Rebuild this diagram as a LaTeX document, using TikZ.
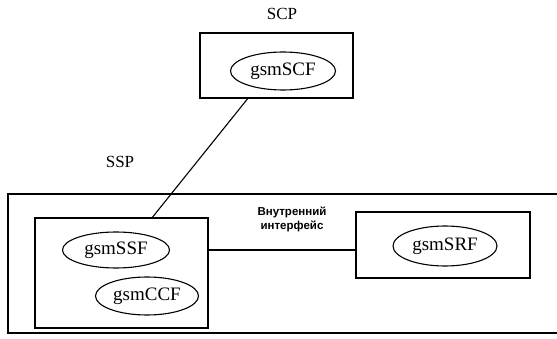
\documentclass[tikz,border=0pt]{standalone}
\usepackage{fontspec}
\setmainfont{Liberation Serif}
\newfontfamily\ifcfont{Liberation Sans}
\usetikzlibrary{shapes.geometric}

\begin{document}
\begin{tikzpicture}[x=1pt,y=-1pt]
  \tikzset{BoxStyle/.style = {
  shape = rectangle,
  draw,
  line width = 1.1pt,
  inner sep = 0pt},
  FuncStyle/.style = {
  shape = ellipse,
  draw,
  line width = 1.1pt,
  inner sep = 0pt,
  font = \fontsize{19}{21}\selectfont},
  LabelStyle/.style = {
  font = \fontsize{17}{19}\selectfont}}
  \useasboundingbox (0,0) rectangle (557,339);
  \node[LabelStyle] (scplabel) at (282,14) {SCP};
  \node[BoxStyle, minimum width=153pt, minimum height=65pt] (scpbox) at (276.5,65.5) {};
  \node[FuncStyle, minimum width=105pt, minimum height=38pt] (scf) at (283,71) {gsmSCF};
  \node[LabelStyle] (ssplabel) at (120,162) {SSP};
  \node[BoxStyle, minimum width=552pt, minimum height=139pt] (sspbox) at (284,263.5) {};
  \node[BoxStyle, minimum width=173pt, minimum height=110pt] (ssfbox) at (121.5,273) {};
  \node[FuncStyle, minimum width=107pt, minimum height=36pt] (ssf) at (116,250) {gsmSSF};
  \node[FuncStyle, minimum width=103pt, minimum height=38pt] (ccf) at (147,296) {gsmCCF};
  \node[BoxStyle, minimum width=174pt, minimum height=66pt] (srfbox) at (443,245) {};
  \node[FuncStyle, minimum width=104pt, minimum height=40pt] (srf) at (445,246) {gsmSRF};
  \node[align=center, font=\ifcfont\bfseries\fontsize{11.5}{14}\selectfont] (ifc) at (292,219)
    {Внутренний\\интерфейс};
  \draw[line width=1.1pt] (scpbox.-131) -- (ssfbox.61);
  \draw[line width=1.1pt] ([yshift=-5pt]srfbox.west) -- ([yshift=-5pt]srfbox.west -| ssfbox.east);
\end{tikzpicture}
\end{document}
